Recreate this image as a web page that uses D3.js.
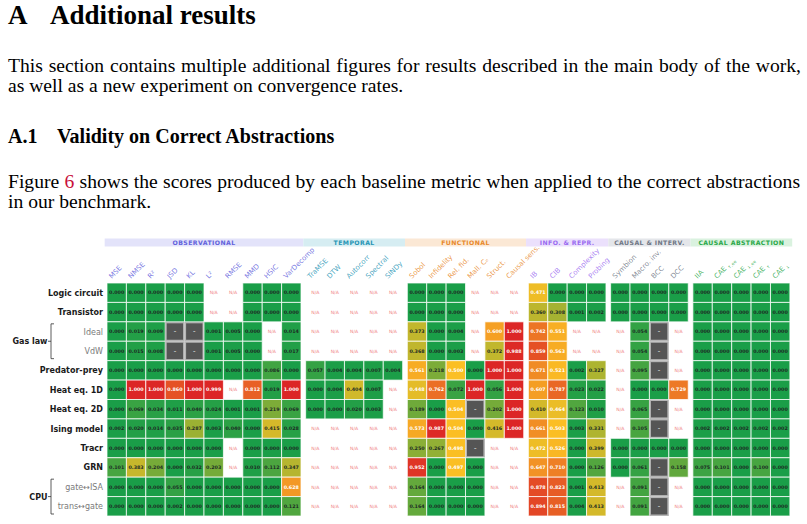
<!DOCTYPE html>
<html>
<head>
<meta charset="utf-8">
<script src="https://cdn.jsdelivr.net/npm/d3@7"></script>
<style>
  body { margin: 0; background: #fff; }
  svg { display: block; }
</style>
</head>
<body>
<svg width="807" height="524"></svg>
<script>
// rows of the heatmap
const rows = ['Logic circuit', 'Transistor', 'Ideal', 'VdW', 'Predator-prey', 'Heat eq. 1D',
  'Heat eq. 2D', 'Ising model', 'Tracr', 'GRN', 'gate↔ISA', 'trans↔gate'];
const subRows = ['Ideal', 'VdW', 'gate↔ISA', 'trans↔gate'];

// metric groups and their columns
const groupNames = ['OBSERVATIONAL', 'TEMPORAL', 'FUNCTIONAL', 'INFO. & REPR.', 'CAUSAL & INTERV.', 'CAUSAL ABSTRACTION'];
const obsCols = ['MSE', 'NMSE', 'R²', 'JSD', 'KL', 'L²', 'RMSE', 'MMD', 'HSIC', 'VarDecomp'];
const tempCols = ['TraMSE', 'DTW', 'Autocorr', 'Spectral', 'SINDy'];
const funcCols = ['Sobol', 'Infidelity', 'Rel. fid.', 'Mall. Cₑ', 'Struct.', 'Causal sens.'];
const infoCols = ['IB', 'CIB', 'Complexity', 'Probing'];
const interCols = ['Symbion', 'Macro. inv.', 'BCC', 'DCC'];
const abstrCols = ['IIA', 'CAE|↑,ee', 'CAE|↓,ee', 'CAE|↑', 'CAE|↓'];

// scores: null = N/A, 'D' = undefined (dash)
const N = null, D = 'D';
const obsScores = [
  [0, 0, 0, 0, 0, N, N, 0, 0, 0],
  [0, 0, 0, 0, 0, N, N, 0, 0, 0],
  [0, 0.019, 0.009, D, D, 0.001, 0.005, 0, N, 0.014],
  [0, 0.015, 0.008, D, D, 0.001, 0.005, 0, N, 0.017],
  [0, 0, 0, 0, 0, 0, 0, 0, 0.086, 0],
  [0, 1, 1, 0.860, 1, 0.999, N, 0.812, 0.019, 1],
  [0, 0.069, 0.034, 0.011, 0.040, 0.024, 0.001, 0.001, 0.219, 0.069],
  [0.002, 0.020, 0.014, 0.035, 0.287, 0.003, 0.040, 0, 0.415, 0.028],
  [0, 0, 0, 0, 0, 0, N, 0, 0, 0],
  [0.101, 0.383, 0.204, 0, 0.032, 0.203, N, 0.010, 0.112, 0.347],
  [0, 0, 0, 0.055, 0, 0, 0, 0, 0, 0.628],
  [0, 0, 0, 0.002, 0, 0, 0, 0, 0, 0.121]
];
const tempScores = [
  [N, N, N, N, N],
  [N, N, N, N, N],
  [N, N, N, N, N],
  [N, N, N, N, N],
  [0.057, 0.004, 0.004, 0.007, 0.004],
  [0, 0.004, 0.404, 0.007, N],
  [0, 0, 0.020, 0.003, N],
  [N, N, N, N, N],
  [N, N, N, N, N],
  [N, N, N, N, N],
  [N, N, N, N, N],
  [N, N, N, N, N]
];
const funcScores = [
  [0, 0, 0, N, N, N],
  [0, 0, 0, N, N, N],
  [0.373, 0, 0.004, N, 0.600, 1],
  [0.368, 0, 0.003, N, 0.372, 0.988],
  [0.561, 0.218, 0.500, 0, 1, 1],
  [0.448, 0.762, 0.072, 1, 0.056, 1],
  [0.189, 0, 0.504, D, 0.202, 1],
  [0.573, 0.987, 0.504, 0, 0.416, 1],
  [0.250, 0.267, 0.498, D, N, N],
  [0.952, 0, 0.497, 0, N, N],
  [0.164, 0, 0, 0, N, N],
  [0.164, 0, 0, 0, N, N]
];
const infoScores = [
  [0.471, 0, 0, 0],
  [0.360, 0.308, 0.001, 0.002],
  [0.742, 0.551, N, N],
  [0.859, 0.563, N, N],
  [0.671, 0.521, 0.002, 0.327],
  [0.607, 0.787, 0.023, 0.022],
  [0.410, 0.464, 0.123, 0.010],
  [0.661, 0.503, 0.003, 0.331],
  [0.472, 0.526, 0, 0.399],
  [0.647, 0.710, 0, 0.126],
  [0.878, 0.823, 0.001, 0.413],
  [0.894, 0.815, 0.004, 0.413]
];
const interScores = [
  [0, 0, 0, 0],
  [0, 0, 0, 0],
  [N, 0.054, D, N],
  [N, 0.054, D, N],
  [N, 0.095, D, N],
  [N, 0, 0, 0.729],
  [N, 0.065, D, N],
  [N, 0.105, D, N],
  [0, 0, 0, 0],
  [0, 0.061, D, 0.158],
  [N, 0.091, D, N],
  [N, 0.091, D, N]
];
const abstrScores = [
  [0, 0, 0, 0, 0],
  [0, 0, 0, 0, 0],
  [0, 0, 0, 0, 0],
  [0, 0, 0, 0, 0],
  [0, 0, 0, 0, 0],
  [0, 0, 0, 0, 0],
  [0, 0, 0, 0, 0],
  [0.002, 0.002, 0.002, 0.002, 0.002],
  [0, 0, 0, 0, 0],
  [0.075, 0.101, 0, 0.100, 0],
  [0, 0, 0, 0, 0],
  [0, 0, 0, 0, 0]
];

const groupCols = [obsCols, tempCols, funcCols, infoCols, interCols, abstrCols];
const groupScores = [obsScores, tempScores, funcScores, infoScores, interScores, abstrScores];
const groupFill = ['#e3e3fa', '#d6edf2', '#fbe8d5', '#ebe0fc', '#e4e6ea', '#daf2df'];
const groupInk = ['#6262dc', '#2795b5', '#e8892c', '#9a6cf0', '#6f7785', '#2aa84a'];

const svg = d3.select('svg');
const serif = '"Liberation Serif", "DejaVu Serif", serif';
const sans = '"DejaVu Sans", sans-serif';

// ---------- page text ----------
const page = svg.append('g').attr('font-family', serif).attr('fill', '#000');

// stretch the word gaps so a line ends at the right margin
function justify(textSel, width) {
  const node = textSel.node();
  const natural = node.getComputedTextLength();
  const spaces = (node.textContent.match(/ /g) || []).length;
  textSel.attr('word-spacing', (width - natural) / spaces);
}

page.append('text').attr('x', 8).attr('y', 24).attr('font-size', 27).attr('font-weight', 'bold').text('A');
page.append('text').attr('x', 50).attr('y', 24).attr('font-size', 27).attr('font-weight', 'bold').text('Additional results');

const bodySize = 19.6;
const line1 = page.append('text').attr('x', 8).attr('y', 72).attr('font-size', bodySize)
  .text('This section contains multiple additional figures for results described in the main body of the work,');
justify(line1, 793);
page.append('text').attr('x', 8).attr('y', 91.5).attr('font-size', bodySize)
  .text('as well as a new experiment on convergence rates.');

page.append('text').attr('x', 8).attr('y', 143).attr('font-size', 20).attr('font-weight', 'bold').text('A.1');
page.append('text').attr('x', 57).attr('y', 143).attr('font-size', 20).attr('font-weight', 'bold').text('Validity on Correct Abstractions');

const fig = page.append('text').attr('x', 8).attr('y', 188).attr('font-size', bodySize);
fig.append('tspan').text('Figure ');
fig.append('tspan').attr('fill', '#c8103a').text('6');
fig.append('tspan').text(' shows the scores produced by each baseline metric when applied to the correct abstractions');
justify(fig, 792);
page.append('text').attr('x', 8).attr('y', 207.5).attr('font-size', bodySize).text('in our benchmark.');

// ---------- heatmap ----------
const cellW = 19.4;
const gapFrac = 0.24; // gap between groups, in cells
const totalSlots = d3.sum(groupCols, c => c.length) + (groupCols.length - 1) * gapFrac;
const xScale = d3.scaleLinear().domain([0, totalSlots]).range([107, 107 + totalSlots * cellW]);
const yScale = d3.scaleBand().domain(rows).range([283, 516]);

const columns = [];
let slot = 0;
groupCols.forEach((cols, gi) => {
  cols.forEach((c, ci) => {
    columns.push({ name: c, group: gi, slot: slot + ci, scores: groupScores[gi].map(r => r[ci]) });
  });
  slot += cols.length + gapFrac;
});

const color = d3.scaleLinear().domain([0, 0.5, 1]).range(['#1a9e48', '#fbbf24', '#dc2626']);

const hm = svg.append('g').attr('font-family', sans);

// group header bands
groupCols.forEach((cols, gi) => {
  const first = columns.find(c => c.group === gi).slot;
  const x0 = xScale(first - gapFrac / 2);
  const x1 = xScale(first + cols.length + gapFrac / 2);
  hm.append('rect').attr('x', x0).attr('y', 238.5).attr('width', x1 - x0).attr('height', 8)
    .attr('fill', groupFill[gi]);
  hm.append('text').attr('x', (x0 + x1) / 2).attr('y', 245)
    .attr('text-anchor', 'middle').attr('font-size', 6.2).attr('font-weight', 'bold')
    .attr('letter-spacing', 0.4).attr('fill', groupInk[gi]).text(groupNames[gi]);
});

// column labels
columns.forEach(c => {
  const cx = xScale(c.slot + 0.5);
  const t = hm.append('text')
    .attr('transform', `translate(${cx - 5},279) rotate(-45)`)
    .attr('text-anchor', 'start').attr('font-size', 7)
    .attr('fill', groupInk[c.group]).attr('fill-opacity', 0.85);
  const parts = c.name.split('|');
  t.append('tspan').text(parts[0]);
  if (parts[1]) t.append('tspan').attr('font-size', 4.5).attr('dy', 2).text(' ' + parts[1]);
});

// cells
columns.forEach(c => {
  c.scores.forEach((v, ri) => {
    const x = xScale(c.slot), y = yScale(rows[ri]);
    const w = cellW, h = yScale.bandwidth();
    if (v === null) {
      hm.append('text').attr('x', x + w / 2).attr('y', y + h / 2 + 1.7)
        .attr('text-anchor', 'middle').attr('font-size', 4.6).attr('fill', '#f08585').text('N/A');
      return;
    }
    if (v === D) {
      hm.append('rect').attr('x', x + 0.75).attr('y', y + 0.75).attr('width', w - 1.5).attr('height', h - 1.5)
        .attr('fill', '#555').attr('stroke', '#b5b5b5').attr('stroke-width', 1.5);
      hm.append('text').attr('x', x + w / 2).attr('y', y + h / 2 + 1.8)
        .attr('text-anchor', 'middle').attr('font-size', 5).attr('font-weight', 'bold').attr('fill', '#ddd').text('–');
      return;
    }
    hm.append('rect').attr('x', x).attr('y', y).attr('width', w).attr('height', h)
      .attr('fill', color(v)).attr('stroke', '#fff').attr('stroke-opacity', 0.75).attr('stroke-width', 1);
    hm.append('text').attr('x', x + w / 2).attr('y', y + h / 2 + 1.7)
      .attr('text-anchor', 'middle').attr('font-size', 4.8).attr('font-weight', 'bold')
      .attr('fill', v >= 0.44 ? '#fff' : '#1d2b24').text(v.toFixed(3));
  });
});

// row labels
rows.forEach(r => {
  const sub = subRows.includes(r);
  hm.append('text').attr('x', 103).attr('y', yScale(r) + yScale.bandwidth() / 2 + 3)
    .attr('text-anchor', 'end').attr('font-size', 8)
    .attr('font-weight', sub ? 'normal' : 'bold')
    .attr('fill', sub ? '#7a7a7a' : '#1a1a1a').text(r);
});

// brackets for grouped rows
const brackets = [
  { label: 'Gas law', from: 'Ideal', to: 'VdW' },
  { label: 'CPU', from: 'gate↔ISA', to: 'trans↔gate' }
];
brackets.forEach(b => {
  const y0 = yScale(b.from) + 2, y1 = yScale(b.to) + yScale.bandwidth() - 2;
  const ym = (y0 + y1) / 2;
  hm.append('path')
    .attr('d', `M54,${y0} H51 V${y1} H54 M51,${ym} H48`)
    .attr('fill', 'none').attr('stroke', '#333').attr('stroke-width', 0.8);
  hm.append('text').attr('x', 47.5).attr('y', ym + 3).attr('text-anchor', 'end')
    .attr('font-size', 8).attr('font-weight', 'bold').attr('fill', '#1a1a1a').text(b.label);
});
</script>
</body>
</html>
